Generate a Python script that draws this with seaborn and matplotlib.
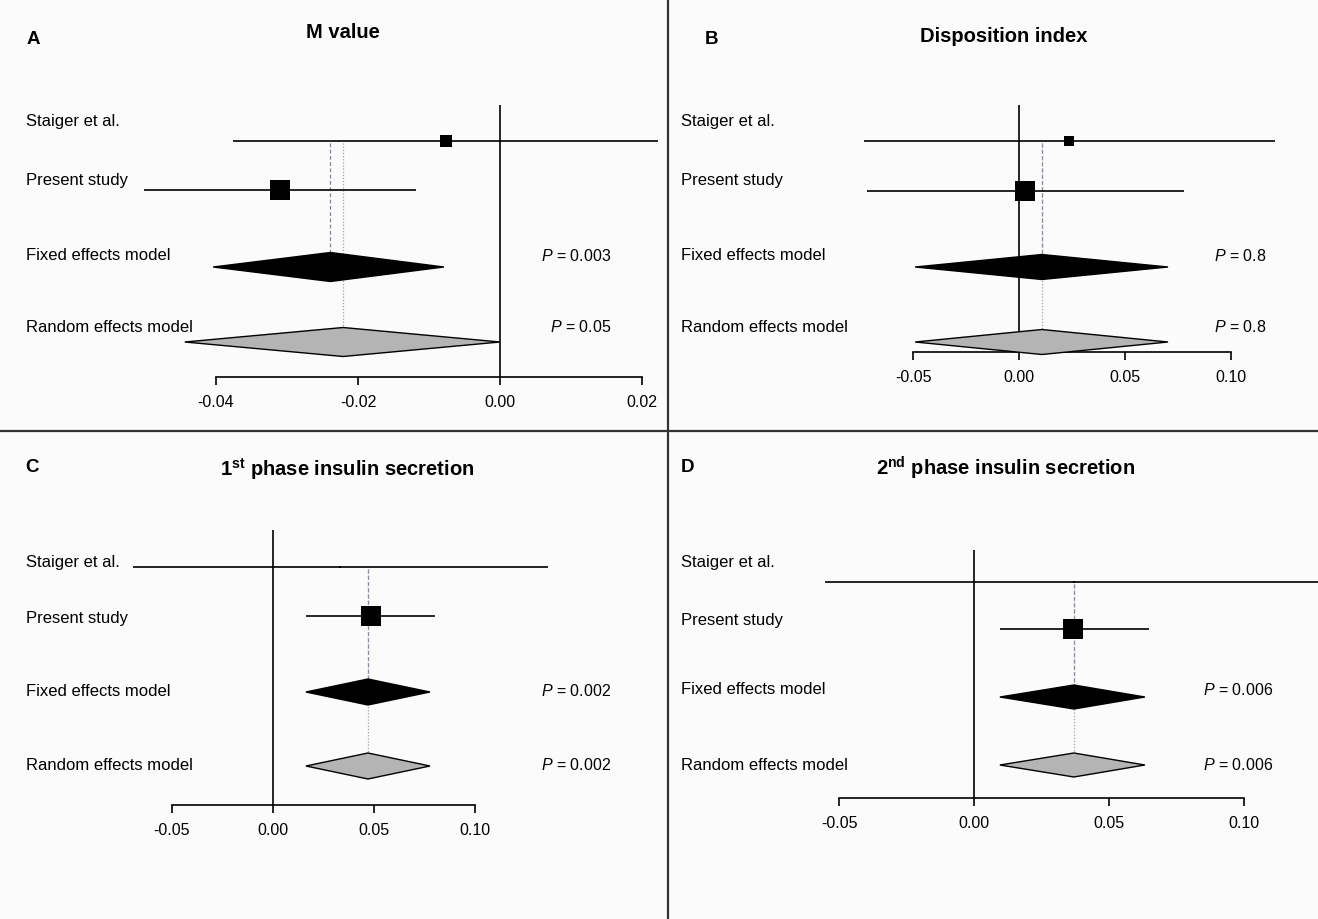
import numpy as np
import pandas as pd
import matplotlib
matplotlib.use("Agg")
import matplotlib.pyplot as plt
from matplotlib.lines import Line2D
import seaborn as sns

W, H = 1318, 919

studies = ["Staiger et al.", "Present study"]
models = ["Fixed effects model", "Random effects model"]

# A: M value
m_est = [-0.0076, -0.0310]
m_lo = [-0.0376, -0.0501]
m_hi = [0.0350, -0.0118]
m_w = [0.36, 0.64]
m_fixed = [-0.0239, -0.0404, -0.0079]
m_random = [-0.0221, -0.0444, 0.0000]
m_p = ["0.003", "0.05"]

# B: disposition index
di_est = [0.0236, 0.0028]
di_lo = [-0.0731, -0.0717]
di_hi = [0.1208, 0.0778]
di_w = [0.34, 0.66]
di_fixed = [0.0108, -0.0490, 0.0703]
di_random = [0.0108, -0.0490, 0.0703]
di_p = ["0.8", "0.8"]

# C: 1st phase insulin secretion
p1_est = [0.0332, 0.0485]
p1_lo = [-0.0693, 0.0163]
p1_hi = [0.1361, 0.0802]
p1_w = [0.06, 0.94]
p1_fixed = [0.0470, 0.0163, 0.0777]
p1_random = [0.0470, 0.0163, 0.0777]
p1_p = ["0.002", "0.002"]

# D: 2nd phase insulin secretion
p2_est = [0.0370, 0.0367]
p2_lo = [-0.0552, 0.0096]
p2_hi = [0.1600, 0.0648]
p2_w = [0.02, 0.98]
p2_fixed = [0.0370, 0.0096, 0.0633]
p2_random = [0.0370, 0.0096, 0.0633]
p2_p = ["0.006", "0.006"]

ticks_a = [-0.04, -0.02, 0.00, 0.02]
ticks_bcd = [-0.05, 0.00, 0.05, 0.10]

sns.set_theme(style="white")
plt.rcParams["font.family"] = ["Liberation Sans", "DejaVu Sans"]
plt.rcParams["text.color"] = "black"
plt.rcParams["xtick.color"] = "black"
plt.rcParams["mathtext.fontset"] = "custom"
plt.rcParams["mathtext.rm"] = "Liberation Sans"
plt.rcParams["mathtext.it"] = "Liberation Sans:italic"
plt.rcParams["mathtext.bf"] = "Liberation Sans:bold"

bg = "#fbfbfc"
fig = plt.figure(figsize=(W / 100, H / 100), dpi=100, facecolor=bg)


def ftext(x, y, s, **kw):
    fig.text(x / W, 1 - y / H, s, **kw)


panels = [
    dict(letter="A", title="M value", est=m_est, lo=m_lo, hi=m_hi, w=m_w,
         fixed=m_fixed, random=m_random, p=m_p, ticks=ticks_a,
         rect=(0, 0, 658, 431), zero=500, scale=7100, axis_y=377, vtop=105,
         rows=[141, 190, 267, 342], labels_y=[121, 181, 256, 327], half=14.5,
         lab_x=26, p_x=611, title_xy=(343, 33), letter_xy=(33, 40)),
    dict(letter="B", title="Disposition index", est=di_est, lo=di_lo, hi=di_hi, w=di_w,
         fixed=di_fixed, random=di_random, p=di_p, ticks=ticks_bcd,
         rect=(670, 0, 1318, 431), zero=1019, scale=2120, axis_y=352, vtop=105,
         rows=[141, 191, 267, 342], labels_y=[121, 181, 256, 327], half=12.5,
         lab_x=681, p_x=1266, title_xy=(1004, 37), letter_xy=(712, 40)),
    dict(letter="C", title=r"1$^{\mathbf{st}}$ phase insulin secretion", est=p1_est, lo=p1_lo,
         hi=p1_hi, w=p1_w, fixed=p1_fixed, random=p1_random, p=p1_p, ticks=ticks_bcd,
         rect=(0, 433, 668, 919), zero=273, scale=2020, axis_y=805, vtop=530,
         rows=[567, 616, 692, 766], labels_y=[563, 619, 691, 765], half=13,
         lab_x=26, p_x=611, title_xy=(347, 469), letter_xy=(32, 468)),
    dict(letter="D", title=r"2$^{\mathbf{nd}}$ phase insulin secretion", est=p2_est, lo=p2_lo,
         hi=p2_hi, w=p2_w, fixed=p2_fixed, random=p2_random, p=p2_p, ticks=ticks_bcd,
         rect=(670, 433, 1318, 919), zero=974, scale=2700, axis_y=798, vtop=550,
         rows=[582, 629, 697, 765], labels_y=[563, 620, 690, 765], half=12,
         lab_x=681, p_x=1273, title_xy=(1006, 468), letter_xy=(688, 468)),
]

for pn in panels:
    x0, y0, x1, y1 = pn["rect"]
    ax = fig.add_axes([x0 / W, 1 - y1 / H, (x1 - x0) / W, (y1 - y0) / H])
    ax.set_facecolor("none")
    ax.set_xlim((x0 - pn["zero"]) / pn["scale"], (x1 - pn["zero"]) / pn["scale"])
    ax.set_ylim(y1, y0)
    rows = pn["rows"]

    # zero line
    ax.vlines(0, pn["vtop"], pn["axis_y"], color="black", lw=1.2, zorder=2)

    # pooled estimate reference lines
    ax.vlines(pn["fixed"][0], rows[0] + 2, rows[2], color="#7d8794", lw=0.9,
              linestyles=(0, (3, 2)), zorder=1)
    ax.vlines(pn["random"][0], rows[0] + 2, rows[3], color="#9aa3ad", lw=0.9,
              linestyles=(0, (1, 1.5)), zorder=1)

    # study CIs and boxes
    ax.hlines(rows[:2], pn["lo"], pn["hi"], color="black", lw=1.2, zorder=3)
    wmax = max(pn["w"])
    sides = [max(20 * w / wmax, 1.5) for w in pn["w"]]
    sns.scatterplot(x=pn["est"], y=rows[:2], s=[(s * 0.72) ** 2 for s in sides],
                    marker="s", color="black", linewidth=0, ax=ax, legend=False, zorder=4)

    # pooled diamonds
    for (est, lo, hi), y, fc in [(pn["fixed"], rows[2], "black"), (pn["random"], rows[3], "#b4b4b4")]:
        h = pn["half"]
        ax.fill([lo, est, hi, est], [y, y - h, y, y + h], facecolor=fc,
                edgecolor="black", lw=1.0, zorder=4)

    # x axis
    for side in ["top", "left", "right"]:
        ax.spines[side].set_visible(False)
    ax.spines["bottom"].set_position(("data", pn["axis_y"]))
    ax.spines["bottom"].set_bounds(pn["ticks"][0], pn["ticks"][-1])
    ax.spines["bottom"].set_linewidth(1.2)
    ax.spines["bottom"].set_color("black")
    ax.set_xticks(pn["ticks"])
    ax.set_xticklabels([f"{t:.2f}".replace("\u2212", "-") for t in pn["ticks"]])
    ax.set_yticks([])
    ax.tick_params(axis="x", direction="out", length=6, width=1.2, pad=7,
                   labelsize=11.5, bottom=True, colors="black")

    # text
    for lab, y in zip(studies + models, pn["labels_y"]):
        ftext(pn["lab_x"], y, lab, fontsize=12, ha="left", va="center")
    for pv, y in zip(pn["p"], pn["labels_y"][2:]):
        ftext(pn["p_x"], y, r"$\mathit{P}$ = " + pv, fontsize=11.5, ha="right", va="center")
    ftext(*pn["title_xy"], pn["title"], fontsize=14.5, fontweight="bold", ha="center", va="center")
    ftext(*pn["letter_xy"], pn["letter"], fontsize=13.5, fontweight="bold", ha="center", va="center")

# panel dividers
fig.add_artist(Line2D([668 / W, 668 / W], [0, 1], color="#333333", lw=1.6))
fig.add_artist(Line2D([0, 1], [1 - 431 / H, 1 - 431 / H], color="#333333", lw=1.6))

fig.savefig("out.png", dpi=100, facecolor=bg)
